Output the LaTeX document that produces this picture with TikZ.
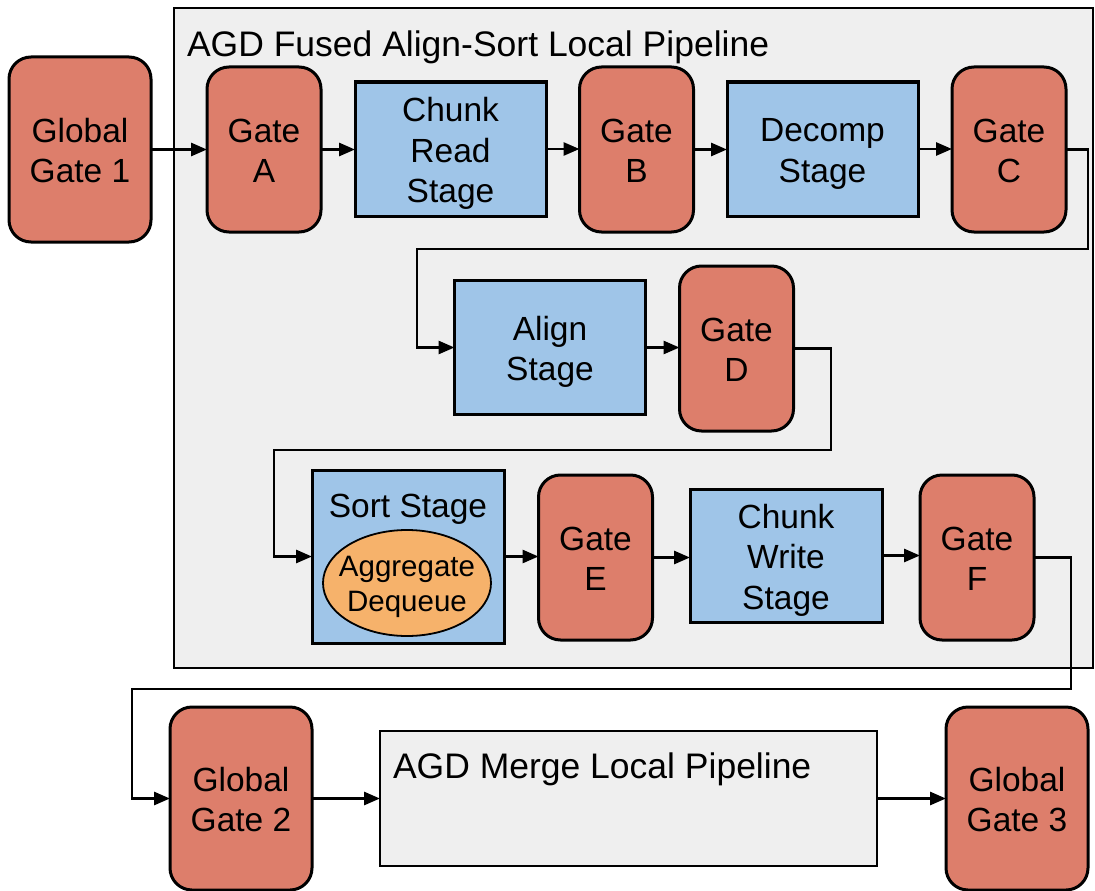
\documentclass[tikz,border=0pt]{standalone}
\usepackage{fontspec}
\setmainfont{Liberation Sans}
\usetikzlibrary{arrows.meta,shapes.geometric}
\definecolor{gatefill}{HTML}{DD7E6B}
\definecolor{stagefill}{HTML}{9FC5E8}
\definecolor{queuefill}{HTML}{F6B26B}
\definecolor{pipefill}{HTML}{EFEFEF}
% struts fixing the height of a first line and the depth of a last line
\newcommand{\topstrut}[1]{\rule{0pt}{#1}}
\newcommand{\botstrut}[1]{\rule[-#1]{0pt}{#1}}
\newcommand{\lbl}[2]{\topstrut{34pt}#1\\#2\botstrut{8pt}}
\newcommand{\lblthree}[3]{\topstrut{34pt}#1\\#2\\#3\botstrut{8pt}}
\begin{document}
\begin{tikzpicture}[x=1pt,y=-1pt,
  every node/.style={inner sep=0pt, outer sep=0pt},
  label text/.style={font=\fontsize{33.5}{40.5}\selectfont, align=center},
  title text/.style={font=\fontsize{35.5}{40}\selectfont},
  gate/.style={label text, draw=black, line width=3pt, fill=gatefill,
    rounded corners=22pt, minimum width=#1, minimum height=165},
  gate/.default=114,
  stagebox/.style={label text, draw=black, line width=3pt, fill=stagefill,
    minimum width=191, minimum height=134},
  pipebox/.style={draw=black, line width=2.8pt, fill=pipefill},
  flow/.style={line width=2.8pt, -{Triangle[length=16pt,width=13pt]}},
]
\useasboundingbox (0,0) rectangle (1095,891);

% fused align-sort pipeline container
\node[pipebox, minimum width=919, minimum height=660, anchor=north west] (fused) at (174,8) {};
\node[title text, anchor=base west] (fusedtitle) at (187,57) {AGD Fused Align-Sort Local Pipeline};

% merge pipeline container
\node[pipebox, minimum width=497, minimum height=135, anchor=north west] (merge) at (380,731) {};
\node[title text, anchor=base west] (mergetitle) at (393,778) {AGD Merge Local Pipeline};

% first row
\node[gate=142, minimum height=185] (g1) at (80,149.5) {\lbl{Global}{Gate 1}};
\node[gate] (gA) at (264,149.5) {\lbl{Gate}{A}};
\node[stagebox] (read) at (450.5,149) {\lblthree{Chunk}{Read}{Stage}};
\node[gate] (gB) at (636.5,149.5) {\lbl{Gate}{B}};
\node[stagebox] (decomp) at (822.5,149) {\lbl{Decomp}{Stage}};
\node[gate] (gC) at (1009,149.5) {\lbl{Gate}{C}};

% second row
\node[stagebox] (align) at (550,347.5) {\lbl{Align}{Stage}};
\node[gate] (gD) at (736.5,348.5) {\lbl{Gate}{D}};

% third row: sort stage holding the aggregate dequeue
\node[stagebox, minimum width=192, minimum height=173] (sort) at (408,556.5) {};
\node[font=\fontsize{33.5}{40.5}\selectfont, anchor=base] (sorttitle) at (408,517) {Sort Stage};
\node[draw=black, line width=1.8pt, fill=queuefill, ellipse, minimum width=168, minimum height=106] (queue) at (407,583) {};
\node[font=\fontsize{29.5}{35}\selectfont, align=center] (queuetext) at (queue.center)
  {\topstrut{30pt}Aggregate\\Dequeue\botstrut{8pt}};
\node[gate] (gE) at (595.5,557.5) {\lbl{Gate}{E}};
\node[stagebox, minimum width=192, minimum height=133] (write) at (786,555.5) {\lblthree{Chunk}{Write}{Stage}};
\node[gate] (gF) at (977,557.5) {\lbl{Gate}{F}};

% bottom row
\node[gate=142, minimum height=183] (g2) at (241,798.5) {\lbl{Global}{Gate 2}};
\node[gate=142, minimum height=183] (g3) at (1017,798.5) {\lbl{Global}{Gate 3}};

% bend points of the wrapping connectors
\coordinate (wrap1r) at (1088,249);
\coordinate (wrap1l) at (417,249);
\coordinate (wrap2r) at (831,450);
\coordinate (wrap2l) at (274,450);
\coordinate (wrap3r) at (1071,689);
\coordinate (wrap3l) at (132,689);

% connectors
\draw[flow] (g1.east) -- (gA.west);
\draw[flow] (gA.east) -- (gA.east -| read.west);
\draw[flow] (read.east) -- (read.east -| gB.west);
\draw[flow] (gB.east) -- (gB.east -| decomp.west);
\draw[flow] (decomp.east) -- (decomp.east -| gC.west);
\draw[flow] (gC.east) -| (wrap1r) -- (wrap1l) |- (align.west);
\draw[flow] (align.east) -- (align.east -| gD.west);
\draw[flow] (gD.east) -| (wrap2r) -- (wrap2l) |- (sort.west);
\draw[flow] (sort.east) -- (sort.east -| gE.west);
\draw[flow] (gE.east) -- (gE.east -| write.west);
\draw[flow] (write.east) -- (write.east -| gF.west);
\draw[flow] (gF.east) -| (wrap3r) -- (wrap3l) |- (g2.west);
\draw[flow] (g2.east) -- (g2.east -| merge.west);
\draw[flow] (merge.east |- g3.west) -- (g3.west);
\end{tikzpicture}
\end{document}
